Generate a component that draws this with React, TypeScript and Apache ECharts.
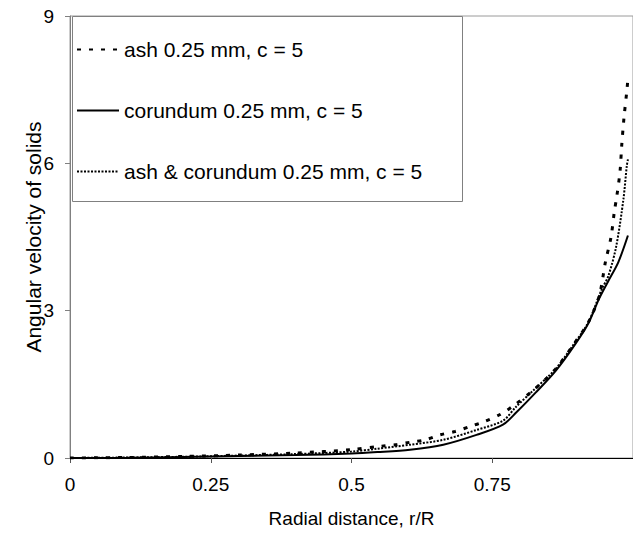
import React, { useEffect, useRef } from "react";
import * as echarts from "echarts";

const seriesNames = ["ash 0.25 mm, c = 5", "corundum 0.25 mm, c = 5", "ash & corundum 0.25 mm, c = 5"];

const ashX = [0, 0.1, 0.2, 0.3, 0.4, 0.5, 0.552, 0.578, 0.604, 0.631, 0.657, 0.684, 0.71, 0.736, 0.763, 0.786, 0.827, 0.863, 0.898, 0.921, 0.94, 0.951, 0.961, 0.967, 0.971, 0.977, 0.98, 0.984, 0.989, 0.991];
const ashY = [0, 0.01, 0.03, 0.06, 0.1, 0.17, 0.24, 0.27, 0.32, 0.37, 0.47, 0.54, 0.64, 0.74, 0.88, 1.05, 1.42, 1.82, 2.37, 2.77, 3.3, 3.99, 4.5, 5.03, 5.31, 5.84, 6.37, 6.93, 7.47, 7.72];

const corX = [0, 0.1, 0.2, 0.3, 0.4, 0.5, 0.546, 0.604, 0.663, 0.722, 0.769, 0.792, 0.827, 0.863, 0.898, 0.921, 0.94, 0.956, 0.974, 0.991];
const corY = [0, 0.005, 0.02, 0.04, 0.06, 0.09, 0.12, 0.17, 0.27, 0.47, 0.68, 0.92, 1.33, 1.78, 2.33, 2.75, 3.25, 3.6, 3.99, 4.53];

const mixX = [0, 0.1, 0.2, 0.3, 0.4, 0.5, 0.546, 0.604, 0.663, 0.722, 0.769, 0.792, 0.827, 0.863, 0.898, 0.921, 0.945, 0.956, 0.97, 0.983, 0.989, 0.991];
const mixY = [0, 0.01, 0.025, 0.05, 0.08, 0.13, 0.19, 0.27, 0.37, 0.57, 0.76, 1.04, 1.42, 1.82, 2.37, 2.77, 3.45, 3.7, 4.3, 5.27, 5.95, 6.08];

const xTicks = [0, 0.25, 0.5, 0.75, 1];
const yTicks = [0, 3, 6, 9];

const zip = (xs: number[], ys: number[]) => xs.map((x, i) => [x, ys[i]]);

export default function App() {
  const ref = useRef<HTMLDivElement>(null);
  useEffect(() => {
    if (!ref.current) return;
    const chart = echarts.init(ref.current, null, { renderer: "svg" });
    const font = "Liberation Sans, Arial, sans-serif";
    chart.setOption({
      animation: false,
      textStyle: { fontFamily: font },
      grid: {
        left: 70,
        top: 16,
        width: 568,
        height: 444,
        show: true,
        borderColor: "#9a9a9a",
        borderWidth: 1,
        containLabel: false,
      },
      graphic: [
        {
          type: "rect",
          shape: { x: 72.5, y: 16.5, width: 390, height: 185 },
          style: { fill: "#fff", stroke: "#808080", lineWidth: 1 },
          z: 5,
        },
      ],
      legend: {
        orient: "vertical",
        left: 76,
        top: 39,
        itemWidth: 42,
        itemHeight: 21,
        itemGap: 40,
        padding: 0,
        z: 10,
        data: seriesNames,
        itemStyle: { opacity: 0 },
        textStyle: { fontSize: 21, color: "#000", fontFamily: font, lineHeight: 21 },
      },
      xAxis: {
        type: "value",
        min: xTicks[0],
        max: xTicks[xTicks.length - 1],
        interval: 0.25,
        name: "Radial distance, r/R",
        nameLocation: "middle",
        nameGap: 51,
        nameMoveOverlap: false,
        nameTextStyle: { fontSize: 19, color: "#000", fontFamily: font },
        axisLine: { show: true, lineStyle: { color: "#000", width: 1 } },
        axisTick: { show: true, inside: false, length: 5, lineStyle: { color: "#555" } },
        axisLabel: { fontSize: 19, color: "#000", margin: 17, showMaxLabel: false },
        splitLine: { show: false },
      },
      yAxis: {
        type: "value",
        min: yTicks[0],
        max: yTicks[yTicks.length - 1],
        interval: 3,
        name: "Angular velocity of solids",
        nameLocation: "middle",
        nameGap: 26,
        nameMoveOverlap: false,
        nameTextStyle: { fontSize: 21, color: "#000", fontFamily: font },
        axisLine: { show: true, lineStyle: { color: "#808080", width: 1 } },
        axisTick: { show: true, inside: false, length: 5, lineStyle: { color: "#808080" } },
        axisLabel: { fontSize: 19, color: "#000", margin: 16 },
        splitLine: { show: false },
      },
      series: [
        {
          name: seriesNames[0],
          type: "line",
          data: zip(ashX, ashY),
          showSymbol: false,
          symbol: "none",
          smooth: 0.3,
          lineStyle: { color: "#000", width: 3, type: [4, 8] },
          itemStyle: { color: "#000" },
          z: 3,
        },
        {
          name: seriesNames[1],
          type: "line",
          data: zip(corX, corY),
          showSymbol: false,
          symbol: "none",
          smooth: 0.3,
          lineStyle: { color: "#000", width: 2, type: "solid" },
          itemStyle: { color: "#000" },
          z: 3,
        },
        {
          name: seriesNames[2],
          type: "line",
          data: zip(mixX, mixY),
          showSymbol: false,
          symbol: "none",
          smooth: 0.3,
          lineStyle: { color: "#000", width: 2, type: [2, 1.5] },
          itemStyle: { color: "#000" },
          z: 3,
        },
      ],
    });
    return () => chart.dispose();
  }, []);
  return (
    <div
      ref={ref}
      style={{ position: "absolute", left: 0, top: 0, width: 633, height: 533, background: "#fff" }}
    />
  );
}
